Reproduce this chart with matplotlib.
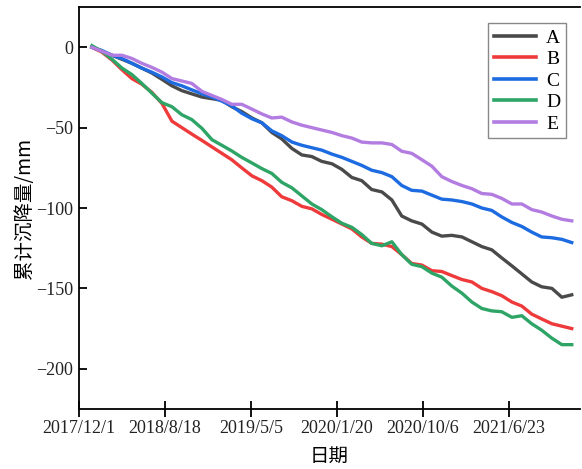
import matplotlib.pyplot as plt

plt.rcParams['font.family'] = ['Liberation Serif', 'Noto Sans CJK SC']

# days since 2017/12/1
days = [39, 69, 100, 130, 160, 190, 220, 251, 281, 311,
        341, 372, 402, 432, 462, 492, 523, 553, 583, 613,
        644, 674, 704, 734, 765, 795, 825, 855, 885, 916,
        946, 976, 1006, 1037, 1067, 1097, 1127, 1158, 1188, 1218,
        1248, 1278, 1309, 1339, 1369, 1399, 1430, 1460, 1490]

A = [0, -2.5, -5, -7.5, -10, -13, -16, -20, -24, -27,
     -29, -31, -32, -33, -37, -40, -44, -47, -53, -57,
     -63, -67, -68, -71, -72.5, -76, -81, -83, -88.5, -90,
     -95, -105, -108, -110, -115, -117.5, -117, -118, -121, -124,
     -126, -131, -136, -141, -146, -149, -150, -155.5, -154]
B = [0, -3, -8, -14, -19.5, -23, -28, -35, -46, -50,
     -54, -58, -62, -66, -70, -75, -80, -83, -87, -93,
     -95.5, -99, -100.5, -104, -107, -110, -113, -118, -122, -122.5,
     -124, -129, -134.5, -135.5, -139, -139.5, -142, -144.5, -146, -150,
     -152, -154.5, -158.5, -161, -166, -169, -172, -173.5, -175]
C = [0, -2, -5, -7, -10, -13, -15.5, -18.5, -22, -24,
     -26.5, -29, -31, -33.5, -36.5, -41, -44.5, -47, -52, -55,
     -59, -61, -62.5, -64, -66.5, -68.5, -71, -73.5, -76.5, -78,
     -80.5, -86, -89, -89.5, -92, -94.5, -95, -96, -97.5, -100,
     -101.5, -105.5, -109, -111.5, -115, -118, -118.5, -119.5, -121.5]
D = [1, -2.5, -7.5, -13, -17, -22.5, -28.5, -34.5, -37, -42,
     -45, -50.5, -57.5, -61, -64.5, -68.5, -72, -75.5, -78.5, -84,
     -87.5, -92.5, -97.5, -101, -105.5, -109.5, -112, -116.5, -122, -123.5,
     -121, -129, -135, -136.5, -140.5, -143, -148.5, -153, -158.5, -162.5,
     -164, -164.5, -168, -167, -172, -176, -181, -185, -185]
E = [0, -2.5, -5, -5, -7, -10, -12.5, -15.5, -19.5, -21,
     -22.5, -27.5, -30, -32.5, -35.5, -35.5, -38.5, -41.5, -44, -43.5,
     -46.5, -48.5, -50, -51.5, -53, -55, -56.5, -59, -59.5, -59.5,
     -60.5, -64.7, -66, -70, -74, -80.5, -83.5, -86, -88, -91,
     -91.5, -94, -97.5, -97.5, -101, -102.5, -105, -107, -108]

names = ['A', 'B', 'C', 'D', 'E']
colors = ['#4a4a4a', '#ee3a3a', '#1c6be0', '#2ea566', '#b27ce0']

tick_days = [0, 260, 520, 780, 1040, 1300]
tick_labels = ['2017/12/1', '2018/8/18', '2019/5/5', '2020/1/20', '2020/10/6', '2021/6/23']

fig = plt.figure(figsize=(5.82, 4.69), dpi=100)
ax = fig.add_axes([0.1357, 0.128, 0.8609, 0.857])

for name, vals, c in zip(names, [A, B, C, D, E], colors):
    ax.plot(days, vals, color=c, lw=2.4, label=name)

ax.set_xlim(0, 1515)
ax.set_ylim(-225, 25)
ax.set_xticks(tick_days)
ax.set_xticklabels(tick_labels)
ax.set_yticks([0, -50, -100, -150, -200])

ax.spines['right'].set_visible(False)
for s in ['left', 'bottom', 'top']:
    ax.spines[s].set_linewidth(1.3)
ax.tick_params(axis='y', direction='in', length=6, width=1.3, labelsize=13, pad=4,
               labelcolor='#222222')
ax.tick_params(axis='x', direction='inout', length=12, width=1.3, labelsize=13, pad=2,
               labelcolor='#222222')

ax.set_xlabel('日期', fontsize=14, family=['Noto Sans CJK SC'], labelpad=6)
ax.set_ylabel('累计沉降量/mm', fontsize=14, family=['Noto Sans CJK SC', 'Liberation Serif'], labelpad=1)

leg = ax.legend(loc='upper right', bbox_to_anchor=(0.972, 0.960), borderaxespad=0,
                fontsize=14, fancybox=False, edgecolor='#888888', framealpha=1,
                handlelength=2.2, handletextpad=0.5, labelspacing=0.2, borderpad=0.3)
leg.get_frame().set_linewidth(1.0)
for line in leg.get_lines():
    line.set_linewidth(2.6)

plt.savefig('out.png', dpi=100)
